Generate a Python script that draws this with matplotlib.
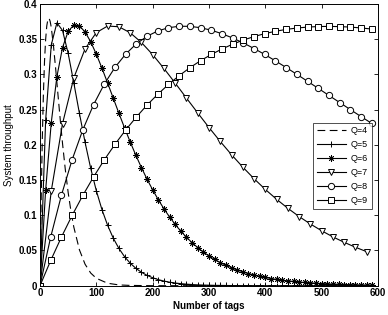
import matplotlib
matplotlib.use("Agg")
import matplotlib.pyplot as plt

plt.rcParams['font.family'] = ['Liberation Sans', 'DejaVu Sans']

# Q=4 (dashed, no markers)
n_q4 = [0, 1, 2, 4, 6, 8, 10, 12, 14, 16, 18, 20, 24, 28, 32, 36, 40, 45, 50, 55, 60,
        70, 80, 90, 100, 120, 140, 160, 200, 300, 400, 500, 600]
s_q4 = [0, 0.0625, 0.1172, 0.2060, 0.2716, 0.3183, 0.3496, 0.3688, 0.3781, 0.3798,
        0.3755, 0.3668, 0.3399, 0.3063, 0.2704, 0.2351, 0.2018, 0.1644, 0.1323, 0.1054,
        0.0833, 0.0509, 0.0305, 0.0180, 0.0105, 0.0035, 0.0011, 0.0004, 0, 0, 0, 0, 0]

# Q=5 (+), every 10 tags
n_q5 = list(range(0, 600, 10))
s_q5 = [0, 0.2348, 0.3419, 0.3733, 0.3624, 0.3298, 0.2881, 0.2446, 0.2036, 0.1667,
        0.1348, 0.1080, 0.0858, 0.0676, 0.0530, 0.0413, 0.0321, 0.0248, 0.0191, 0.0147,
        0.0113, 0.0086, 0.0066, 0.0050, 0.0038, 0.0029, 0.0022, 0.0016, 0.0012, 0.0009,
        0.0007, 0.0005, 0.0004, 0.0003, 0.0002, 0.0002, 0.0001, 0.0001, 0.0001, 0,
        0, 0, 0, 0, 0, 0, 0, 0, 0, 0,
        0, 0, 0, 0, 0, 0, 0, 0, 0, 0]

# Q=6 (*), every 10 tags
n_q6 = list(range(0, 600, 10))
s_q6 = [0, 0.1356, 0.2317, 0.2969, 0.3382, 0.3611, 0.3702, 0.3690, 0.3603, 0.3463,
        0.3287, 0.3089, 0.2878, 0.2664, 0.2450, 0.2243, 0.2044, 0.1855, 0.1678, 0.1513,
        0.1361, 0.1221, 0.1092, 0.0976, 0.0870, 0.0774, 0.0688, 0.0610, 0.0541, 0.0478,
        0.0423, 0.0373, 0.0329, 0.0290, 0.0255, 0.0224, 0.0197, 0.0173, 0.0152, 0.0133,
        0.0117, 0.0102, 0.0089, 0.0078, 0.0068, 0.0060, 0.0052, 0.0046, 0.0040, 0.0035,
        0.0030, 0.0026, 0.0023, 0.0020, 0.0017, 0.0015, 0.0013, 0.0011, 0.0010, 0.0009]

# Q=7 (triangles), every 20 tags
n_q7 = list(range(0, 600, 20))
s_q7 = [0, 0.1346, 0.2302, 0.2951, 0.3363, 0.3594, 0.3687, 0.3677, 0.3592, 0.3454,
        0.3281, 0.3085, 0.2877, 0.2664, 0.2453, 0.2246, 0.2048, 0.1860, 0.1684, 0.1519,
        0.1367, 0.1227, 0.1099, 0.0982, 0.0876, 0.0780, 0.0693, 0.0616, 0.0546, 0.0483]

# Q=8 (circles), every 19 tags
n_q8 = list(range(0, 600, 19))
s_q8 = [0, 0.0692, 0.1284, 0.1788, 0.2214, 0.2569, 0.2861, 0.3099, 0.3288, 0.3434,
        0.3542, 0.3617, 0.3663, 0.3684, 0.3683, 0.3663, 0.3628, 0.3578, 0.3517, 0.3446,
        0.3368, 0.3283, 0.3192, 0.3098, 0.3001, 0.2902, 0.2802, 0.2701, 0.2601, 0.2500,
        0.2401, 0.2304]

# Q=9 (squares), every 19 tags
n_q9 = list(range(0, 600, 19))
s_q9 = [0, 0.0358, 0.0690, 0.0998, 0.1282, 0.1544, 0.1785, 0.2007, 0.2210, 0.2395,
        0.2565, 0.2718, 0.2857, 0.2982, 0.3095, 0.3195, 0.3283, 0.3361, 0.3429, 0.3488,
        0.3538, 0.3579, 0.3613, 0.3639, 0.3659, 0.3672, 0.3680, 0.3682, 0.3679, 0.3672,
        0.3660, 0.3644]

labels = ['Q=4', 'Q=5', 'Q=6', 'Q=7', 'Q=8', 'Q=9']

fig = plt.figure(figsize=(3.88, 3.15), dpi=100)
ax = fig.add_axes([40 / 388, 1 - 285.7 / 315, 338 / 388, 281.7 / 315])

lw = 0.8
ms = 4.5
mew = 0.7
ax.plot(n_q4, s_q4, color='black', linestyle=(0, (7, 4)), linewidth=lw, label=labels[0])
ax.plot(n_q5, s_q5, color='black', marker='+', markersize=5, markeredgewidth=mew,
        linewidth=lw, label=labels[1])
ax.plot(n_q6, s_q6, color='black', marker=(8, 2, 0), markersize=4.5, markeredgewidth=0.6,
        linewidth=lw, label=labels[2])
ax.plot(n_q7, s_q7, color='black', marker='v', markersize=ms, markeredgewidth=mew,
        markerfacecolor='white', linewidth=lw, label=labels[3])
ax.plot(n_q8, s_q8, color='black', marker='o', markersize=ms, markeredgewidth=mew,
        markerfacecolor='white', linewidth=lw, label=labels[4])
ax.plot(n_q9, s_q9, color='black', marker='s', markersize=ms, markeredgewidth=mew,
        markerfacecolor='white', linewidth=lw, label=labels[5])

ax.set_xlim(0, 600)
ax.set_ylim(0, 0.4)
ax.set_xticks([0, 100, 200, 300, 400, 500, 600])
ax.set_xticklabels(['0', '100', '200', '300', '400', '500', '600'])
ax.set_yticks([0, 0.05, 0.1, 0.15, 0.2, 0.25, 0.3, 0.35, 0.4])
ax.set_yticklabels(['0', '0.05', '0.1', '0.15', '0.2', '0.25', '0.3', '0.35', '0.4'])
ax.tick_params(direction='in', top=True, right=True, length=3, width=0.6,
               labelsize=7, pad=2)
for lab in ax.get_xticklabels() + ax.get_yticklabels():
    lab.set_fontweight('bold')
for sp in ax.spines.values():
    sp.set_linewidth(0.7)

ax.set_xlabel('Number of tags', fontsize=7, fontweight='bold', labelpad=2)
ax.set_ylabel('System throughput', fontsize=7, labelpad=3)

leg = ax.legend(loc='upper right', bbox_to_anchor=(0.982, 0.578), borderaxespad=0,
                fontsize=6.5, frameon=True, fancybox=False, edgecolor='black',
                handlelength=3.2, labelspacing=0.55, borderpad=0.4, handletextpad=0.6)
leg.get_frame().set_linewidth(0.6)

fig.savefig('out.png', dpi=100)
